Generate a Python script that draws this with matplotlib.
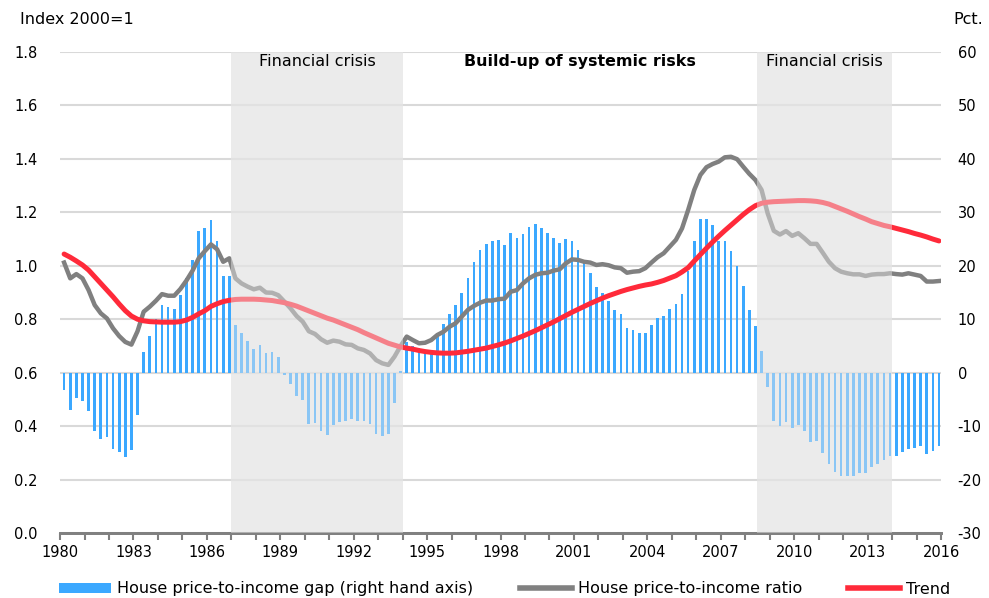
import matplotlib
matplotlib.use('Agg')
import matplotlib.pyplot as plt
from matplotlib.patches import Patch
from matplotlib.lines import Line2D
import numpy as np

# quarterly observations 1980Q1 - 2015Q4
dates = 1980 + np.arange(144) / 4 + 1 / 6

gap = [-3.2, -7.0, -4.7, -5.3, -7.2, -10.9, -12.4, -12.0, -14.3, -14.8, -15.8, -14.4, -7.9, 3.9,
       6.9, 10.0, 12.7, 12.2, 12.0, 14.6, 17.7, 21.1, 26.6, 27.1, 28.6, 24.6, 18.1, 18.1,
       9.0, 7.4, 5.9, 4.5, 5.2, 3.6, 3.9, 2.9, -0.4, -2.1, -4.3, -5.2, -9.6, -9.5,
       -11.0, -11.7, -9.7, -9.2, -9.1, -8.7, -9.0, -9.1, -9.6, -11.5, -11.8, -11.4, -5.6, 0.3,
       5.7, 4.9, 4.6, 4.1, 4.1, 7.2, 9.1, 11.0, 12.7, 15.0, 17.8, 20.8, 23.0, 24.0,
       24.6, 24.8, 23.8, 26.1, 25.2, 26.0, 27.3, 27.8, 27.1, 26.1, 25.2, 24.3, 25.0, 24.7,
       23.0, 20.5, 18.6, 16.1, 15.0, 13.5, 11.7, 10.9, 8.3, 7.9, 7.4, 7.5, 9.0, 10.2,
       10.6, 12.0, 12.9, 14.8, 19.0, 24.6, 28.8, 28.8, 27.7, 24.7, 24.7, 22.8, 20.0, 16.3,
       11.7, 8.8, 4.0, -2.6, -9.0, -9.9, -9.3, -10.4, -9.8, -11.0, -12.9, -12.7, -15.1, -17.1,
       -18.5, -19.4, -19.4, -19.3, -18.8, -18.7, -17.6, -17.1, -16.3, -15.6, -15.6, -14.8,
       -14.2, -14.1, -13.8, -15.2, -14.7, -13.7]

ratio = [1.012, 0.953, 0.969, 0.953, 0.909, 0.853, 0.822, 0.803, 0.766, 0.737, 0.715, 0.705,
         0.755, 0.828, 0.847, 0.869, 0.894, 0.888, 0.888, 0.913, 0.945, 0.982, 1.028, 1.055,
         1.080, 1.062, 1.015, 1.028, 0.953, 0.934, 0.922, 0.912, 0.918, 0.900, 0.899, 0.890,
         0.866, 0.841, 0.812, 0.791, 0.755, 0.745, 0.725, 0.712, 0.720, 0.716, 0.706, 0.704,
         0.691, 0.685, 0.672, 0.647, 0.635, 0.629, 0.660, 0.700, 0.735, 0.722, 0.710, 0.712,
         0.722, 0.741, 0.753, 0.772, 0.785, 0.810, 0.835, 0.850, 0.862, 0.870, 0.870, 0.875,
         0.877, 0.903, 0.909, 0.934, 0.953, 0.966, 0.972, 0.974, 0.982, 0.987, 1.009, 1.024,
         1.022, 1.015, 1.012, 1.003, 1.006, 1.002, 0.994, 0.991, 0.974, 0.978, 0.980, 0.991,
         1.012, 1.032, 1.047, 1.072, 1.097, 1.140, 1.209, 1.284, 1.340, 1.369, 1.381, 1.390,
         1.406, 1.408, 1.399, 1.371, 1.344, 1.321, 1.284, 1.196, 1.131, 1.117, 1.130, 1.112,
         1.122, 1.103, 1.082, 1.082, 1.049, 1.015, 0.991, 0.978, 0.972, 0.968, 0.968, 0.962,
         0.967, 0.969, 0.969, 0.972, 0.969, 0.967, 0.972, 0.967, 0.962, 0.941, 0.941, 0.943]

trend = [1.044, 1.032, 1.018, 1.003, 0.984, 0.959, 0.934, 0.909, 0.884, 0.857, 0.832, 0.812,
         0.800, 0.794, 0.791, 0.790, 0.789, 0.789, 0.789, 0.791, 0.797, 0.807, 0.820, 0.832,
         0.848, 0.858, 0.866, 0.871, 0.874, 0.875, 0.875, 0.875, 0.874, 0.872, 0.870, 0.866,
         0.862, 0.856, 0.849, 0.840, 0.831, 0.822, 0.813, 0.804, 0.797, 0.788, 0.779, 0.770,
         0.761, 0.750, 0.740, 0.730, 0.720, 0.710, 0.703, 0.696, 0.692, 0.688, 0.683, 0.679,
         0.676, 0.674, 0.673, 0.673, 0.674, 0.677, 0.680, 0.684, 0.688, 0.692, 0.698, 0.704,
         0.711, 0.719, 0.728, 0.737, 0.747, 0.757, 0.768, 0.779, 0.790, 0.802, 0.814, 0.826,
         0.837, 0.848, 0.859, 0.869, 0.879, 0.888, 0.896, 0.904, 0.911, 0.917, 0.923, 0.928,
         0.932, 0.938, 0.945, 0.954, 0.963, 0.977, 0.993, 1.018, 1.042, 1.066, 1.089, 1.111,
         1.132, 1.152, 1.172, 1.192, 1.210, 1.225, 1.234, 1.238, 1.240, 1.241, 1.242, 1.243,
         1.244, 1.244, 1.243, 1.241, 1.237, 1.231, 1.222, 1.213, 1.204, 1.194, 1.184, 1.175,
         1.165, 1.158, 1.151, 1.146, 1.140, 1.134, 1.128, 1.121, 1.115, 1.108, 1.100, 1.093]

crises = [(1987.0, 1994.0), (2008.5, 2014.0)]
xticks = list(range(1980, 2017, 3))

BLUE = '#3ba8ff'
GREY = '#808080'
RED = '#ff2a3a'
SHADE = '#ebebeb'

plt.rcParams['font.family'] = 'DejaVu Sans'
plt.rcParams['axes.unicode_minus'] = False

fig = plt.figure(figsize=(9.89, 5.98), dpi=100)
ax = fig.add_axes([0.0607, 0.1087, 0.8908, 0.8043])   # bars, right-hand scale
ax2 = ax.twinx()                                      # lines, left-hand scale

for a, b in crises:
    ax.axvspan(a, b, color=SHADE, zorder=0, lw=0)

ax.bar(dates, gap, width=0.11, color=BLUE, zorder=2)
ax.set_ylim(-30, 60)
ax.set_yticks(range(-30, 61, 10))
ax.grid(axis='y', color='#d9d9d9', lw=1.5)
ax.set_axisbelow(True)
ax.yaxis.tick_right()
ax.tick_params(axis='y', length=0, pad=12, labelsize=10.5)

ax2.plot(dates, ratio, color=GREY, lw=3.2, zorder=2, solid_joinstyle='round')
ax2.plot(dates, trend, color=RED, lw=3.6, zorder=3, solid_capstyle='round')
ax2.set_ylim(0, 1.8)
ax2.set_yticks(np.arange(0, 1.81, 0.2))
ax2.set_yticklabels([f'{v:.1f}' for v in np.arange(0, 1.81, 0.2)])
ax2.yaxis.tick_left()
ax2.tick_params(axis='y', length=0, pad=16, labelsize=10.5)

# lighten everything inside the crisis periods
for a, b in crises:
    ax2.axvspan(a, b, color=SHADE, alpha=0.45, zorder=5, lw=0)

ax.set_xlim(1980, 2016)
ax.set_xticks(xticks)
ax.set_xticks(range(1980, 2017), minor=True)
ax.tick_params(axis='x', which='both', direction='out', length=5, width=1.5,
               color=GREY, labelsize=10.5, pad=4)

for a in (ax, ax2):
    for s in ('top', 'left', 'right'):
        a.spines[s].set_visible(False)
    a.spines['bottom'].set_color(GREY)
    a.spines['bottom'].set_linewidth(2)

ax2.text(1990.5, 1.765, 'Financial crisis', ha='center', va='center', fontsize=11.5, zorder=6)
ax2.text(2001.25, 1.765, 'Build-up of systemic risks', ha='center', va='center',
         fontsize=11.4, fontweight='bold', zorder=6)
ax2.text(2011.25, 1.765, 'Financial crisis', ha='center', va='center', fontsize=11.5, zorder=6)

fig.text(20 / 989, 1 - 20 / 598, 'Index 2000=1', ha='left', va='center', fontsize=11.5)
fig.text(983 / 989, 1 - 20 / 598, 'Pct.', ha='right', va='center', fontsize=11.5)

handles = [Patch(facecolor=BLUE, edgecolor='none'),
           Line2D([], [], color=GREY, lw=4),
           Line2D([], [], color=RED, lw=4)]
labels = ['House price-to-income gap (right hand axis)', 'House price-to-income ratio', 'Trend']
fig.legend(handles, labels, loc='center', bbox_to_anchor=(505 / 989, 1 - 589 / 598), ncol=3,
           frameon=False, fontsize=11.5, handlelength=3.25, handleheight=0.65,
           handletextpad=0.38, columnspacing=2.9, borderpad=0)

fig.savefig('out.png', dpi=100)
